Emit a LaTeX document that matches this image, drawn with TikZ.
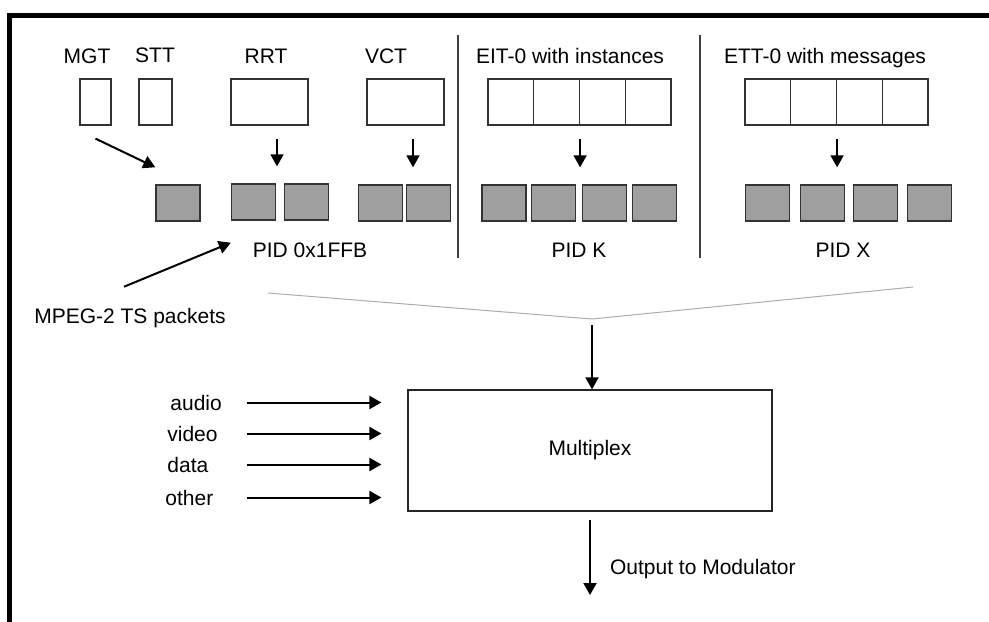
\documentclass[tikz,border=0pt]{standalone}
\usepackage{fontspec}
\setmainfont{Liberation Sans}
\usetikzlibrary{arrows.meta}

\tikzstyle{tablebox} = [rectangle, 
draw=black!80, 
line width=0.6pt, 
minimum height=23pt, 
inner sep=0pt]
\tikzstyle{cell} = [tablebox, minimum width=22.875pt]
\tikzstyle{packet} = [rectangle, 
draw=black!80, 
line width=0.7pt, 
fill=gray!75, 
minimum width=22pt, 
minimum height=18pt, 
inner sep=0pt]
\tikzstyle{process} = [rectangle, 
draw=black!85, 
line width=0.6pt, 
minimum width=182pt, 
minimum height=60.5pt]
\tikzstyle{input} = [anchor=base west, inner sep=0pt]
\tikzstyle{arrow} = [line width=1pt,->,>={Triangle[length=6pt,width=6.5pt]}]
\tikzstyle{down} = [arrow, line width=0.9pt, shorten <=6.5pt, shorten >=8.5pt]
\tikzstyle{divider} = [black!75, line width=0.8pt]
\tikzstyle{hull} = [gray!65, line width=0.5pt]
\tikzstyle{outerframe} = [line width=2.6pt, line join=miter]

\begin{document}
\begin{tikzpicture}[x=0.5pt, y=-0.5pt, every node/.style={font=\fontsize{10.5}{12}\selectfont}]
	\useasboundingbox (0,0) rectangle (989,621);
	\draw [outerframe] (9.5,630) -- (9.5,15.5) -- (1000,15.5);

	% tables
	\node (mgtname) [anchor=base] at (87,63) {MGT};
	\node (sttname) [anchor=base] at (155,62) {STT};
	\node (rrtname) [anchor=base] at (266,63) {RRT};
	\node (vctname) [anchor=base] at (386,63) {VCT};
	\node (eitname) [anchor=base] at (570,63) {EIT-0 with instances};
	\node (ettname) [anchor=base] at (825,63) {ETT-0 with messages};

	\node (mgt) [tablebox, minimum width=15.5pt] at (95.5,102) {};
	\node (stt) [tablebox, minimum width=16.5pt] at (155.5,102) {};
	\node (rrt) [tablebox, minimum width=38.5pt] at (269.5,102) {};
	\node (vct) [tablebox, minimum width=38.5pt] at (405.5,102) {};
	\node (eit1) [cell] at (510.9,102) {};
	\node (eit2) [cell] at (556.6,102) {};
	\node (eit3) [cell] at (602.4,102) {};
	\node (eit4) [cell] at (648.1,102) {};
	\node (ett1) [cell] at (767.9,102) {};
	\node (ett2) [cell] at (813.6,102) {};
	\node (ett3) [cell] at (859.4,102) {};
	\node (ett4) [cell] at (905.1,102) {};

	% packets
	\node (mgtp) [packet] at (178,203) {};
	\node (rrtp1) [packet] at (253.5,202) {};
	\node (rrtp2) [packet] at (306.5,202) {};
	\node (vctp1) [packet] at (380.5,203) {};
	\node (vctp2) [packet] at (428.5,203) {};
	\node (eitp1) [packet] at (504,203) {};
	\node (eitp2) [packet] at (553.5,203) {};
	\node (eitp3) [packet] at (604.5,203) {};
	\node (eitp4) [packet] at (654.5,203) {};
	\node (ettp1) [packet] at (767.5,203) {};
	\node (ettp2) [packet] at (822.5,203) {};
	\node (ettp3) [packet] at (875.5,203) {};
	\node (ettp4) [packet] at (929.5,203) {};

	\node (basepid) [anchor=base] at (310,257) {PID 0x1FFB};
	\node (pidk) [anchor=base] at (579,257) {PID K};
	\node (pidx) [anchor=base] at (843,257) {PID X};
	\node (mpeg) [anchor=base] at (130,323) {MPEG-2 TS packets};

	\draw [divider] (458,35) -- (458,258);
	\draw [divider] (700,35) -- (700,258);

	\draw [arrow] ([yshift=-6.5pt]mgt.south) -- ([yshift=8.5pt]mgtp.north west);
	\draw [down] ([xshift=3.75pt]rrt.south) -- ([xshift=3.75pt]rrt.south |- rrtp1.north);
	\draw [down] ([xshift=3.75pt]vct.south) -- ([xshift=3.75pt]vct.south |- vctp1.north);
	\draw [down] (eit2.south east) -- (eit2.south east |- eitp1.north);
	\draw [down] (ett2.south east) -- (ett2.south east |- ettp1.north);
	\draw [arrow] ([xshift=-3pt, yshift=7pt]mpeg.north) -- ([yshift=-11pt]rrtp1.south west);

	% multiplexer
	\coordinate (funnel) at (592,319);
	\draw [hull] (268,293) -- (funnel) -- (913,287);
	\node (mux) [process] at (590,450.5) {Multiplex};
	\draw [arrow, shorten <=3pt] (funnel) -- (funnel |- mux.north);

	\node (audio) [input, text width=38pt] at (170,410) {audio};
	\node (video) [input, text width=39.5pt] at (167,441) {video};
	\node (data) [input, text width=39.5pt] at (167,472) {data};
	\node (other) [input, text width=40.5pt] at (165,505) {other};
	\draw [arrow, shorten >=13pt] (audio.east) -- (audio.east -| mux.west);
	\draw [arrow, shorten >=13pt] (video.east) -- (video.east -| mux.west);
	\draw [arrow, shorten >=13pt] (data.east) -- (data.east -| mux.west);
	\draw [arrow, shorten >=13pt] (other.east) -- (other.east -| mux.west);

	\coordinate (modout) at (590,595);
	\draw [arrow] ([yshift=-4pt]mux.south) -- (modout);
	\node (outtxt) [anchor=base west] at (603,574) {Output to Modulator};
\end{tikzpicture}
\end{document}
